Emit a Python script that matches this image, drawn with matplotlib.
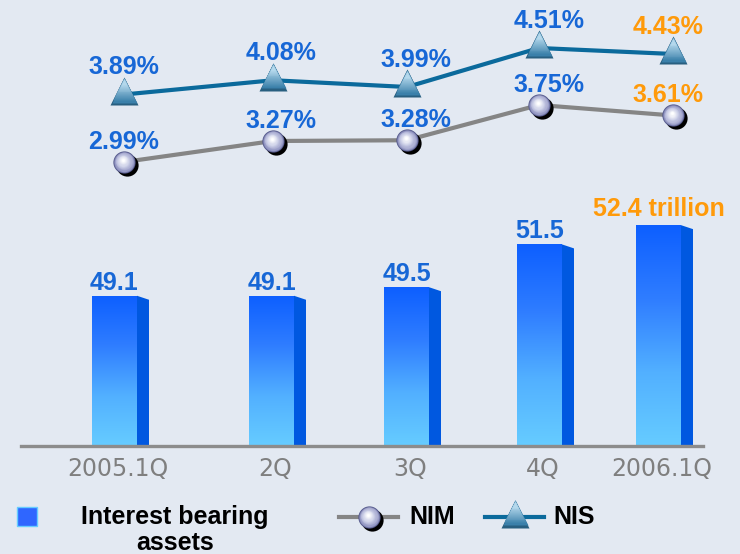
import numpy as np
import matplotlib
matplotlib.use('Agg')
import matplotlib.pyplot as plt
from matplotlib.colors import LinearSegmentedColormap, to_rgb
from matplotlib.patches import Polygon, Rectangle
from matplotlib.transforms import ScaledTranslation

quarters = ['2005.1Q', '2Q', '3Q', '4Q', '2006.1Q']
assets = [49.1, 49.1, 49.5, 51.5, 52.4]   # interest bearing assets, trillion
nim = [2.99, 3.27, 3.28, 3.75, 3.61]
nis = [3.89, 4.08, 3.99, 4.51, 4.43]

# layout: the original slots are not evenly spaced (x in pixel units)
slot_x = np.array([118, 275, 410, 543, 662])
point_x = np.array([124, 273, 407, 539, 673])

BG = '#e3e9f2'
BLUE_TXT = '#1767d6'
ORANGE = '#ff9a0a'
NIS_C = '#0b6a9c'
NIM_C = '#858585'
LABEL_FONT = dict(family='Liberation Sans', weight='bold', size=18)

sphere_cmap = LinearSegmentedColormap.from_list(
    'sphere', ['#52568a', '#9a9ec8', '#c9cce6', '#ffffff'])


def mix(c1, c2, t):
    a, b = np.array(to_rgb(c1)), np.array(to_rgb(c2))
    return tuple(a + (b - a) * t)


def shift(fig, dx, dy):
    # dx, dy in pixels
    return ScaledTranslation(dx / fig.dpi, dy / fig.dpi, fig.dpi_scale_trans)


def sphere(ax, x, y, ms, z=5):
    fig = ax.figure
    ax.plot(x, y, 'o', ms=ms, color='black', mec='none', zorder=z,
            transform=ax.transData + shift(fig, 3, -3), clip_on=False)
    n = 14
    for i in range(n):
        t = i / (n - 1)
        s = ms * (1 - 0.88 * t)
        d = ms * 0.1 * t * fig.dpi / 72
        ax.plot(x, y, 'o', ms=s, color=sphere_cmap(t ** 0.6),
                mec='none', zorder=z + 0.1,
                transform=ax.transData + shift(fig, -d * 0.6, d), clip_on=False)


def pyramid(ax, x, y, ms, z=5):
    fig = ax.figure
    lift = shift(fig, 0, 3.5)   # line runs through the lower part
    ax.plot(x, y, '^', ms=ms, color='#285f80', mec='none', zorder=z,
            transform=ax.transData + lift, clip_on=False)
    n = 10
    for i in range(n):
        t = i / (n - 1)
        s = (ms - 2.5) * (1 - 0.75 * t)
        up = (ms - s) / 2 * 0.8 * fig.dpi / 72
        ax.plot(x, y, '^', ms=s, color=mix('#3b80aa', '#b4d8ec', t), mec='none',
                zorder=z + 0.1,
                transform=ax.transData + lift + shift(fig, 0, up),
                clip_on=False)


fig = plt.figure(figsize=(7.4, 5.54), dpi=100, facecolor=BG)

# ---- bars ----
floor, top = 42.08, 62.92
ax = fig.add_axes([0, 108 / 554, 1, 446 / 554])
ax.set_facecolor('none')
ppu = 446 / (top - floor)   # pixels per unit

cmap = LinearSegmentedColormap.from_list(
    'bar', ['#66ccff', '#52b0ff', '#2f7dff', '#0d5fff'])
grad = np.linspace(0, 1, 256).reshape(-1, 1)
heights = np.array(assets) - floor
bars = ax.bar(slot_x - 3.5, heights, width=45, bottom=floor, color='none', lw=0)
for rect, v in zip(bars, assets):
    x0, x1 = rect.get_x(), rect.get_x() + rect.get_width()
    im = ax.imshow(grad, extent=[x0, x1, floor, v], cmap=cmap, aspect='auto',
                   origin='lower', zorder=2)
    im.set_clip_path(rect)
    ax.add_patch(Polygon([(x1, v), (x1 + 12, v - 4 / ppu),
                          (x1 + 12, floor + 1 / ppu), (x1, floor)],
                         closed=True, fc='#0058e0', ec='none', zorder=2))

for i, (x, v) in enumerate(zip(slot_x - 3.5, assets)):
    last = i == len(assets) - 1
    ax.annotate(f'{v:.1f}' + (' trillion' if last else ''), (x, v),
                xytext=(0, 6 + 3 * last), textcoords='offset pixels',
                ha='center', va='baseline',
                color=ORANGE if last else BLUE_TXT, **LABEL_FONT)

ax.axhline(floor, 21 / 740, 703 / 740, color='#8c8c8c', lw=2.4, clip_on=False,
           zorder=3)
ax.set_xlim(0, 740)
ax.set_ylim(floor, top)
ax.set_xticks(slot_x, quarters)
ax.set_yticks([])
ax.tick_params(length=0, pad=8, labelsize=17, labelcolor='#7f7f7f')
for s in ax.spines.values():
    s.set_visible(False)

# ---- rate lines ----
lx = ax.twinx()
lx.set_ylim(-0.797, 5.15)
lx.set_xlim(0, 740)
lx.axis('off')
lx.plot(point_x, nis, color=NIS_C, lw=3, zorder=4)
lx.plot(point_x, nim, color=NIM_C, lw=3, zorder=4)
for x, v in zip(point_x, nis):
    pyramid(lx, x, v, 20.5)
for x, v in zip(point_x, nim):
    sphere(lx, x, v, 16)

for i in range(len(quarters)):
    col = ORANGE if i == len(quarters) - 1 else BLUE_TXT
    lx.annotate(f'{nis[i]:.2f}%', (slot_x[i], nis[i]), xytext=(6, 20),
                textcoords='offset pixels', ha='center', va='baseline',
                color=col, zorder=6, **LABEL_FONT)
    lx.annotate(f'{nim[i]:.2f}%', (slot_x[i], nim[i]), xytext=(6, 13),
                textcoords='offset pixels', ha='center', va='baseline',
                color=col, zorder=6, **LABEL_FONT)

# ---- legend ----
lg = fig.add_axes([0, 0, 1, 1])
lg.set_xlim(0, 740)
lg.set_ylim(554, 0)
lg.axis('off')
lg.add_patch(Rectangle((17, 507), 20, 19, fc='#2f66ff', ec='#66ccff', lw=1))
lg.text(175, 530, 'Interest bearing\nassets', ha='center', va='center',
        multialignment='center', linespacing=1.15, color='black', **LABEL_FONT)
lg.plot([339, 398], [517, 517], color=NIM_C, lw=3)
sphere(lg, 369, 517, 16)
lg.text(409, 517, 'NIM', ha='left', va='center', color='black', **LABEL_FONT)
lg.plot([485, 544], [517, 517], color=NIS_C, lw=3)
pyramid(lg, 515, 517, 20.5)
lg.text(553, 517, 'NIS', ha='left', va='center', color='black', **LABEL_FONT)

fig.savefig('out.png', dpi=100, facecolor=BG)
